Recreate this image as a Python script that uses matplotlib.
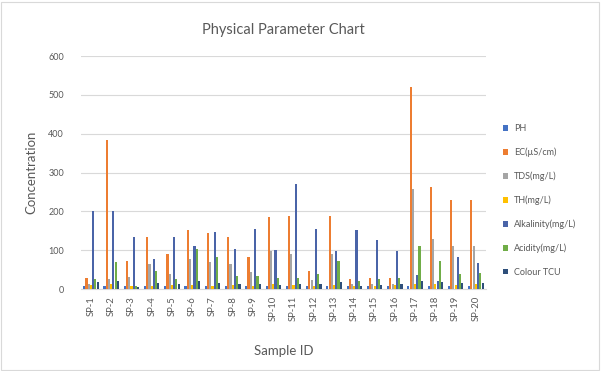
import matplotlib.pyplot as plt
import numpy as np
from matplotlib.patches import Rectangle

plt.rcParams['font.family'] = ['Lato', 'DejaVu Sans']

samples = [f"SP-{i}" for i in range(1, 21)]

ph = [7.2, 7.0, 7.4, 7.1, 6.9, 7.3, 7.0, 7.2, 7.5, 7.1, 6.8, 7.0, 7.3, 7.2, 7.1, 6.9, 7.4, 7.2, 7.0, 7.3]
ec = [28, 385, 73, 133, 90, 153, 145, 133, 82, 185, 189, 47, 187, 26, 28, 28, 521, 262, 228, 228]
tds = [14, 25, 30, 65, 39, 77, 69, 65, 43, 99, 90, 22, 90, 12, 13, 14, 258, 129, 112, 112]
th = [10, 12, 8, 9, 10, 11, 9, 10, 8, 12, 10, 9, 11, 8, 9, 10, 14, 12, 11, 12]
alkalinity = [200, 200, 133, 77, 133, 110, 148, 103, 155, 101, 271, 155, 97, 151, 125, 99, 37, 20, 83, 66]
acidity = [25, 70, 9, 47, 26, 103, 83, 34, 34, 28, 28, 39, 73, 20, 26, 28, 112, 73, 39, 40]
colour = [18, 20, 6, 15, 12, 20, 16, 14, 12, 10, 12, 14, 18, 8, 10, 12, 20, 18, 15, 16]

series = [
    ("PH", ph, "#4472C4"),
    ("EC(µS/cm)", ec, "#ED7D31"),
    ("TDS(mg/L)", tds, "#A5A5A5"),
    ("TH(mg/L)", th, "#FFC000"),
    ("Alkalinity(mg/L)", alkalinity, "#4A64A8"),
    ("Acidity(mg/L)", acidity, "#70AD47"),
    ("Colour TCU", colour, "#2E4F7A"),
]

fig = plt.figure(figsize=(6.03, 3.71), dpi=100)
ax = fig.add_axes([0.134, 0.221, 0.672, 0.628])

x = np.arange(len(samples))
step = 0.11
for i, (name, vals, col) in enumerate(series):
    ax.bar(x + (i - 3) * step, vals, width=0.105, color=col, label=name,
           linewidth=0, zorder=3)

ax.set_xlim(-0.5, len(samples) - 0.5)
ax.set_ylim(0, 600)
ax.set_yticks(range(0, 601, 100))
ax.set_xticks(x)
ax.set_xticklabels(samples, rotation=90, fontsize=6.8, color="#595959")
ax.tick_params(axis="y", labelsize=6.5, colors="#595959", length=0, pad=12)
ax.tick_params(axis="x", length=0, pad=5)
ax.grid(axis="y", color="#D9D9D9", linewidth=0.8, zorder=0)
for side in ["top", "right", "left"]:
    ax.spines[side].set_visible(False)
ax.spines["bottom"].set_color("#D9D9D9")

ax.set_title("Physical Parameter Chart", fontsize=10.5, color="#595959", pad=16)
ax.set_ylabel("Concentration", fontsize=9.5, color="#595959", labelpad=8)
ax.set_xlabel("Sample ID", fontsize=9.5, color="#595959", labelpad=17)

fig.legend(loc="upper left", bbox_to_anchor=(0.828, 0.675), frameon=False,
           fontsize=6.5, labelcolor="#595959", handlelength=0.6, handleheight=0.6,
           handletextpad=0.6, labelspacing=1.6, borderaxespad=0)

# thin chart border
fig.patches.append(Rectangle((0.002, 0.004), 0.992, 0.99, transform=fig.transFigure,
                             fill=False, edgecolor="#D9D9D9", linewidth=0.8))

fig.savefig("out.png", dpi=100)
